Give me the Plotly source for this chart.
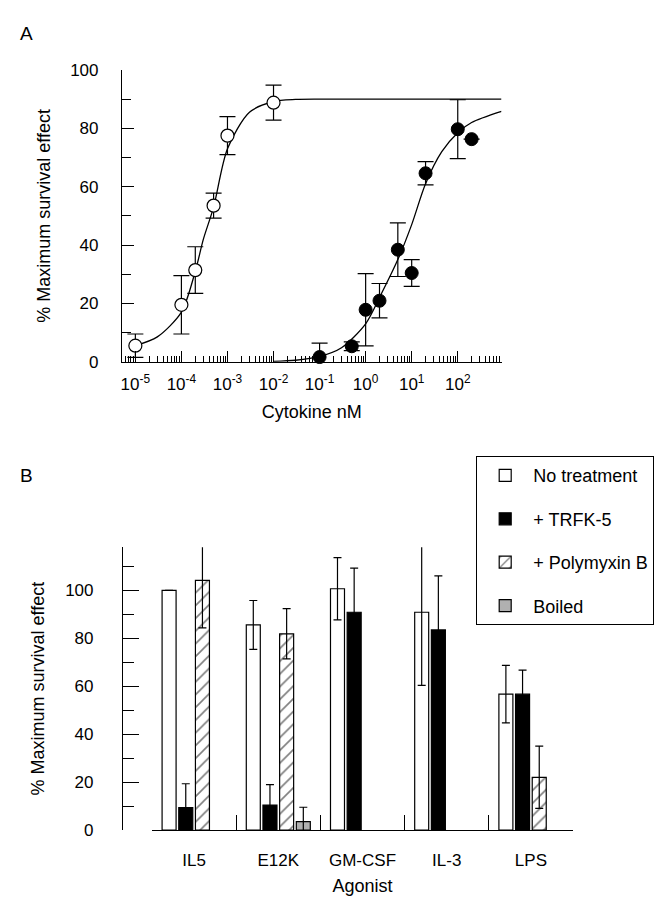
import plotly.graph_objects as go

# ---------------- Panel A data ----------------
open_conc = [1e-5, 1e-4, 2e-4, 5e-4, 1e-3, 1e-2]
open_resp = [5.5, 19.5, 31.4, 53.5, 77.5, 88.8]
open_err = [4.0, 10.0, 8.0, 4.3, 6.5, 6.0]

filled_conc = [0.1, 0.5, 1, 2, 5, 10, 20, 100, 200]
filled_resp = [1.6, 5.3, 17.8, 20.9, 38.4, 30.4, 64.6, 79.7, 76.3]
filled_err = [4.8, 1.5, 12.4, 5.9, 9.2, 4.6, 4.0, 10.1, None]

# fitted curves
open_fit_conc = [1e-5, 3e-5, 1e-4, 2e-4, 3e-4, 5e-4, 1e-3, 3e-3, 1e-2, 3e-2, 1e-1, 1, 10, 100, 891]
open_fit_resp = [5.5, 8.5, 17, 31, 42, 53, 73, 85.5, 89.2, 89.9, 90, 90, 90, 90, 90]

filled_fit_conc = [0.01, 0.03, 0.1, 0.3, 1, 2, 5, 10, 20, 45, 100, 200, 891]
filled_fit_resp = [0.1, 0.5, 1.8, 4.8, 13, 22, 35, 47, 61, 72, 78.5, 82, 85.8]

x_tickvals = [1e-5, 1e-4, 1e-3, 1e-2, 1e-1, 1, 10, 100]
x_ticktext = ["10<sup>-5</sup>", "10<sup>-4</sup>", "10<sup>-3</sup>", "10<sup>-2</sup>",
              "10<sup>-1</sup>", "10<sup>0</sup>", "10<sup>1</sup>", "10<sup>2</sup>"]

# ---------------- Panel B data ----------------
agonists = ["IL5", "E12K", "GM-CSF", "IL-3", "LPS"]
series_names = ["No treatment", "+ TRFK-5", "+ Polymyxin B", "Boiled"]
no_treatment = [100, 85.6, 100.7, 90.9, 56.7]
no_treatment_err = [None, 10.2, 13.0, 30.5, 12.0]
trfk5 = [9.3, 10.4, 90.9, 83.5, 56.7]
trfk5_err = [10.0, 8.5, 18.4, 22.6, 10.0]
polymyxin = [104.2, 81.9, None, None, 22.0]
polymyxin_err = [19.8, 10.5, None, None, 13.0]
boiled = [None, 3.5, None, None, None]
boiled_err = [None, 6.0, None, None, None]

FONT = "Liberation Sans, Arial, Helvetica, sans-serif"

fig = go.Figure()

# Panel A curves
fig.add_trace(go.Scatter(x=open_fit_conc, y=open_fit_resp, mode="lines",
                         line=dict(color="black", width=1.3, shape="spline", smoothing=0.8),
                         xaxis="x", yaxis="y", showlegend=False, cliponaxis=False, hoverinfo="skip"))
fig.add_trace(go.Scatter(x=filled_fit_conc, y=filled_fit_resp, mode="lines",
                         line=dict(color="black", width=1.3, shape="spline", smoothing=0.8),
                         xaxis="x", yaxis="y", showlegend=False, cliponaxis=False, hoverinfo="skip"))
# Panel A points
fig.add_trace(go.Scatter(x=open_conc, y=open_resp, mode="markers",
                         error_y=dict(type="data", array=open_err, visible=True,
                                      color="black", thickness=1.2, width=8),
                         marker=dict(symbol="circle", size=13, color="white",
                                     line=dict(color="black", width=1.2)),
                         xaxis="x", yaxis="y", showlegend=False, cliponaxis=False))
fig.add_trace(go.Scatter(x=filled_conc, y=filled_resp, mode="markers",
                         error_y=dict(type="data", array=filled_err, visible=True,
                                      color="black", thickness=1.2, width=8),
                         marker=dict(symbol="circle", size=13, color="black",
                                     line=dict(color="black", width=1)),
                         xaxis="x", yaxis="y", showlegend=False, cliponaxis=False))

# Panel B bars
bar_specs = [
    (no_treatment, no_treatment_err, dict(color="white")),
    (trfk5, trfk5_err, dict(color="black")),
    (polymyxin, polymyxin_err, dict(color="white",
                                    pattern=dict(shape="/", fgcolor="black", bgcolor="white",
                                                 size=9, solidity=0.18))),
    (boiled, boiled_err, dict(color="#b0b0b0")),
]
for name, (vals, errs, mk) in zip(series_names, bar_specs):
    mk = dict(mk)
    mk["line"] = dict(color="black", width=1.2)
    fig.add_trace(go.Bar(x=agonists, y=vals, name=name, marker=mk,
                         error_y=dict(type="data", array=errs, visible=True,
                                      color="black", thickness=1.2, width=4),
                         xaxis="x2", yaxis="y2", legendgroup=name, cliponaxis=False))

W, H = 664, 900
L, R, T, B = 114, 99, 62, 78
PW, PH = W - L - R, H - T - B


def px(xp):
    return (xp - L) / PW


def py(yp):
    return (H - B - yp) / PH


axis_font = dict(family=FONT, size=17, color="black")
title_font = dict(family=FONT, size=18, color="black")

fig.update_layout(
    width=W, height=H,
    margin=dict(l=L, r=R, t=T, b=B),
    paper_bgcolor="white", plot_bgcolor="white",
    font=dict(family=FONT, color="black"),
    barmode="group", bargap=0.208, bargroupgap=0.16,
    xaxis=dict(type="log", domain=[0, px(493.5)], range=[-5.29, 2.95], anchor="y",
               showline=True, linecolor="black", linewidth=1.2,
               ticks="inside", ticklen=11, tickwidth=1, tickcolor="black",
               tickmode="array", tickvals=x_tickvals, ticktext=x_ticktext,
               minor=dict(ticks="inside", ticklen=6, tickwidth=1, tickcolor="black", dtick="D1"),
               tickfont=axis_font, ticklabelstandoff=7,
               showgrid=False, zeroline=False,
               title=dict(text="Cytokine nM", font=title_font, standoff=12)),
    yaxis=dict(domain=[py(353.7), 1], range=[0, 100], anchor="x",
               showline=True, linecolor="black", linewidth=1.2,
               ticks="inside", ticklen=12, tickwidth=1, tickcolor="black",
               dtick=20, tick0=0,
               minor=dict(ticks="inside", ticklen=9, tickwidth=1, tickcolor="black", dtick=10),
               tickfont=axis_font, ticklabelstandoff=19,
               showgrid=False, zeroline=False,
               title=dict(text="% Maximum survival effect", font=title_font, standoff=14)),
    xaxis2=dict(type="category", domain=[px(144), 1], range=[-0.5, 4.5], anchor="y2",
                showline=True, linecolor="black", linewidth=1.2,
                ticks="inside", ticklen=15, tickwidth=1, tickcolor="black",
                tickson="boundaries", tickfont=axis_font, ticklabelstandoff=14,
                showgrid=False, zeroline=False,
                title=dict(text="Agonist", font=title_font, standoff=10)),
    yaxis2=dict(domain=[0, py(539.3)], range=[0, 118], anchor="free", position=0,
                showline=True, linecolor="black", linewidth=1.2,
                ticks="inside", ticklen=16, tickwidth=1, tickcolor="black",
                dtick=20, tick0=0,
                minor=dict(ticks="inside", ticklen=11, tickwidth=1, tickcolor="black", dtick=10),
                tickfont=axis_font, ticklabelstandoff=25,
                showgrid=False, zeroline=False,
                title=dict(text="% Maximum survival effect", font=title_font, standoff=14)),
    legend=dict(x=px(468), y=py(448), xanchor="left", yanchor="top",
                bgcolor="white", bordercolor="black", borderwidth=1.2,
                font=dict(family=FONT, size=18, color="black"),
                tracegroupgap=17, traceorder="grouped", itemwidth=46),
    annotations=[
        dict(text="A", x=px(10), y=py(12.5), xref="paper", yref="paper",
             showarrow=False, font=dict(family=FONT, size=19, color="black")),
        dict(text="B", x=px(10), y=py(467), xref="paper", yref="paper",
             showarrow=False, font=dict(family=FONT, size=19, color="black")),
    ],
)

fig.write_html("out.html")
